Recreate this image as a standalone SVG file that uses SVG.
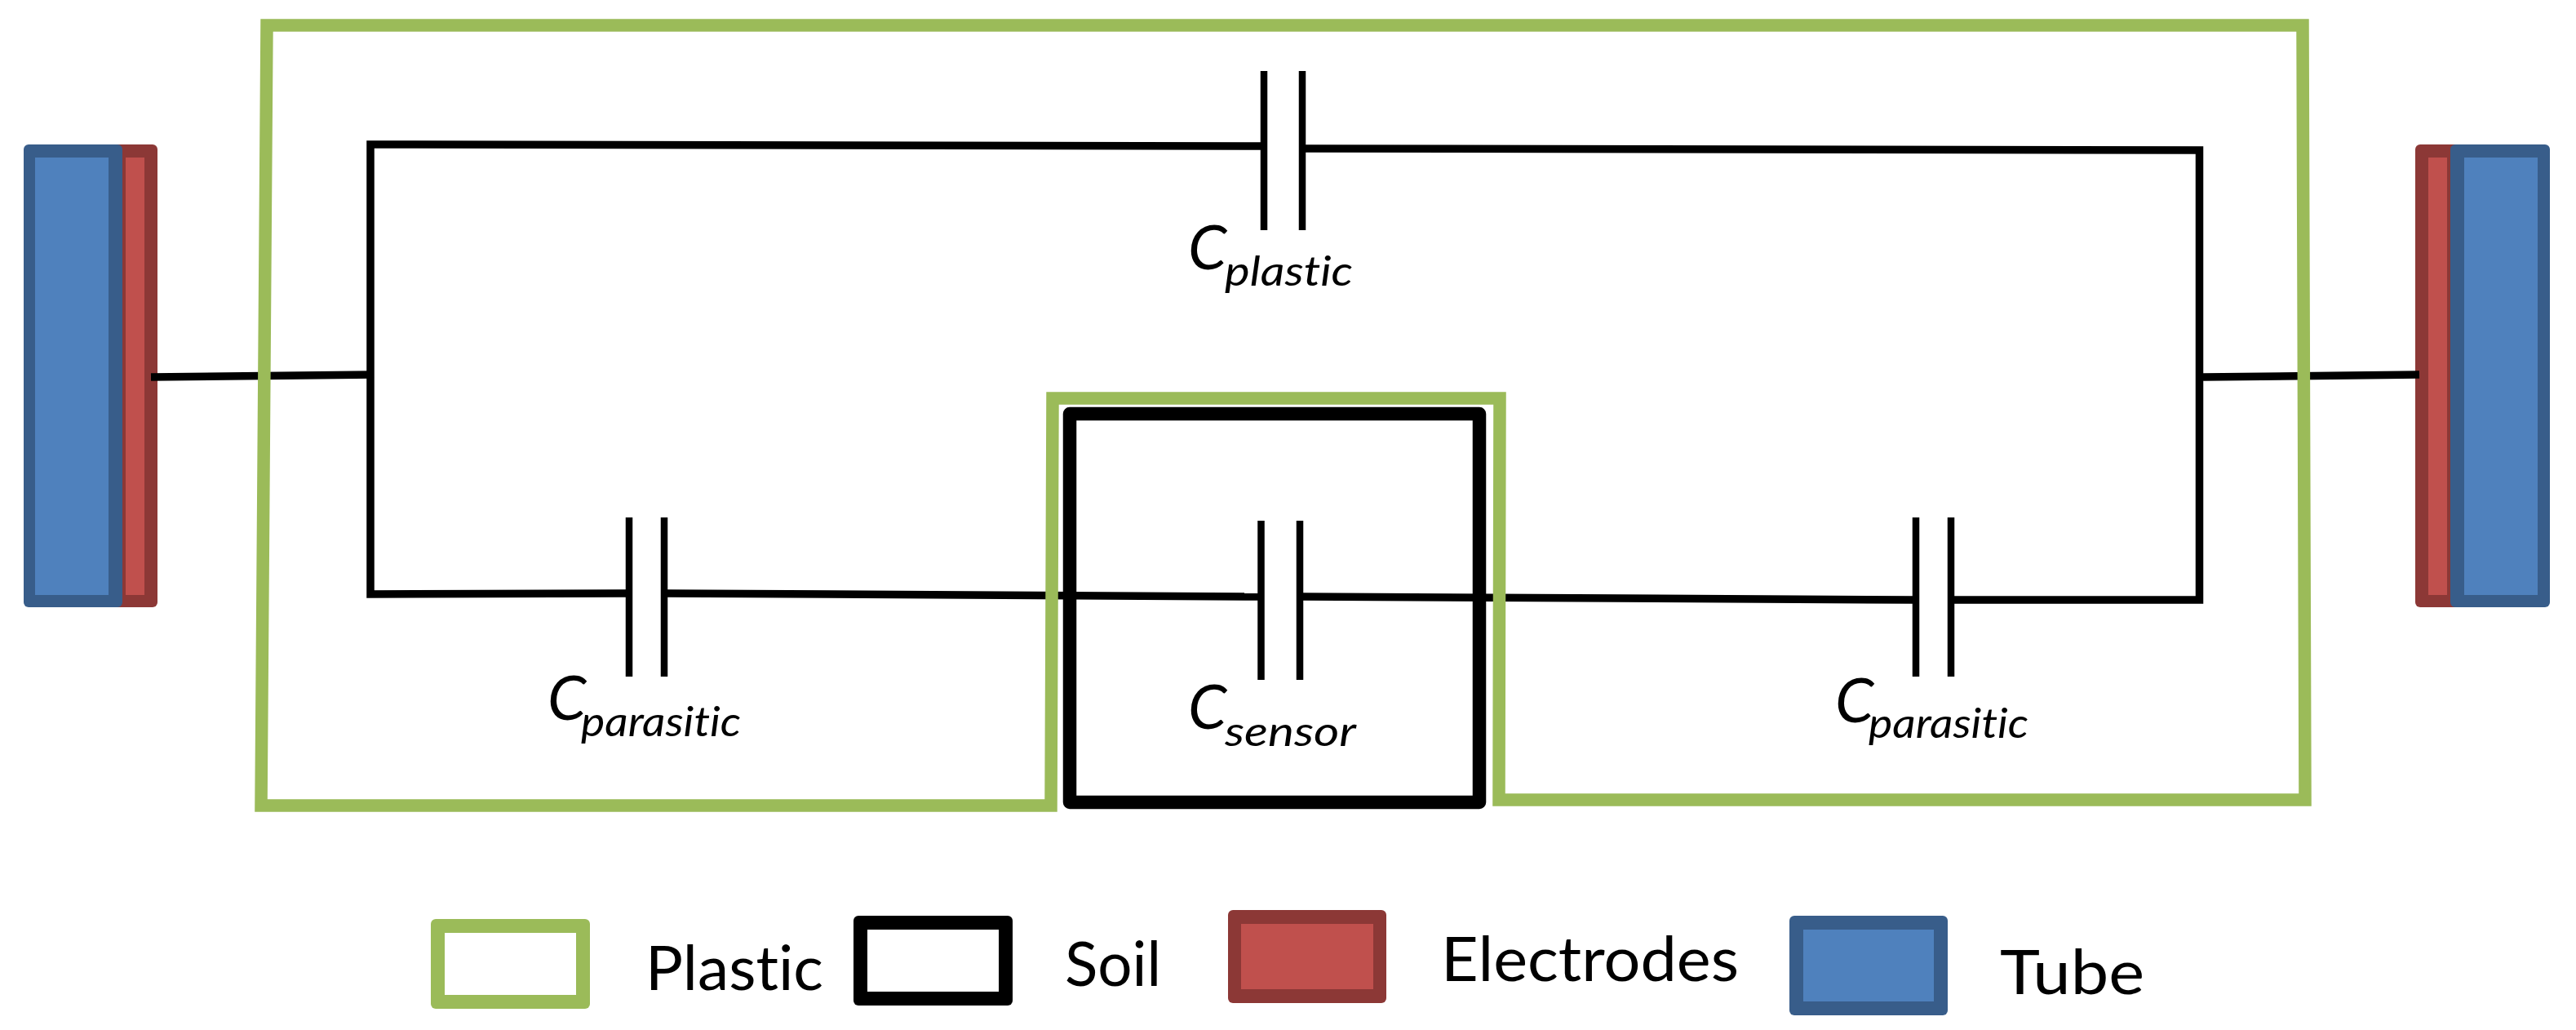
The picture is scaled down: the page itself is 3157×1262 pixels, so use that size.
<svg xmlns="http://www.w3.org/2000/svg" width="3157" height="1262" viewBox="0 0 3157 1262">
<style>
text{font-family:Lato,"Open Sans","Liberation Sans",sans-serif;fill:#000;font-variant-ligatures:none}
.c{font-style:italic;font-size:76px}
.s{font-style:italic;font-size:50px}
.l{font-size:76px}
.wire{fill:none;stroke:#000;stroke-width:9.5;stroke-linejoin:miter}
.plate{fill:none;stroke:#000;stroke-width:8.5}
.plastic{fill:none;stroke:#9BBB59;stroke-width:15.5;stroke-linejoin:miter}
.soil{fill:none;stroke:#000;stroke-width:16.5;stroke-linejoin:round}
.ro{fill:#8C3836}.ri{fill:#C0504D}.bo{fill:#385D8A}.bi{fill:#4F81BD}.go{fill:#9BBB59}.ko{fill:#000}.wi{fill:#fff}
</style>
<rect width="3157" height="1262" fill="#fff"/>
<g id="electrode-left"><rect class="ro" x="130" y="177" width="63" height="567" rx="6"/><rect class="ri" x="154" y="193" width="23" height="536"/></g>
<g id="tube-left"><rect class="bo" x="29" y="177" width="121" height="567" rx="6"/><rect class="bi" x="43" y="193" width="90" height="536"/></g>
<g id="electrode-right"><rect class="ro" x="2960" y="177" width="60" height="567" rx="6"/><rect class="ri" x="2976" y="193" width="23" height="536"/></g>
<g id="tube-right"><rect class="bo" x="3003" y="177" width="122" height="567" rx="6"/><rect class="bi" x="3020" y="193" width="90" height="536"/></g>
<g id="connectors">
<path class="wire" d="M185 462 L458 459"/>
<path class="wire" d="M1549 179 L454 177 L454 728 L771 727"/>
<path class="wire" d="M814 727 L1545 731"/>
<path class="wire" d="M1593 731 L2348 735"/>
<path class="wire" d="M2391 735 L2695.500 735 L2695.500 184 L1596 182"/>
<path class="wire" d="M2700 462 L2965 459"/>
<path class="plate" d="M1549 87V282M1596 87V282"/>
<path class="plate" d="M771 634V829M814 634V829"/>
<path class="plate" d="M1545.500 638V833M1593 638V833"/>
<path class="plate" d="M2348 634V829M2391 634V829"/>
</g>
<g id="plastic"><path class="plastic" d="M327 31 L2822 31 L2825 980 L1837 980 L1838 488 L1290 488 L1288 987 L320 987 Z"/></g>
<g id="soil"><rect class="soil" x="1311" y="507" width="502" height="476"/></g>
<g id="c-plastic"><text><tspan class="c" x="1456" y="330">C</tspan><tspan class="s" x="1501" y="350" textLength="157" lengthAdjust="spacingAndGlyphs">plastic</tspan></text></g>
<g id="c-sensor"><text><tspan class="c" x="1456" y="893">C</tspan><tspan class="s" x="1501" y="914" textLength="161" lengthAdjust="spacingAndGlyphs">sensor</tspan></text></g>
<g id="c-parasitic-left"><text><tspan class="c" x="671" y="882">C</tspan><tspan class="s" x="712" y="902" textLength="196" lengthAdjust="spacingAndGlyphs">parasitic</tspan></text></g>
<g id="c-parasitic-right"><text><tspan class="c" x="2249" y="885">C</tspan><tspan class="s" x="2290" y="904" textLength="196" lengthAdjust="spacingAndGlyphs">parasitic</tspan></text></g>
<g id="legend-plastic"><rect class="go" x="528" y="1126" width="195" height="110" rx="6"/><rect class="wi" x="545" y="1143" width="161" height="76"/><text class="l" x="791" y="1213" textLength="218" lengthAdjust="spacingAndGlyphs">Plastic</text></g>
<g id="legend-soil"><rect class="ko" x="1046" y="1122" width="195" height="110" rx="6"/><rect class="wi" x="1063" y="1139" width="161" height="76"/><text class="l" x="1305" y="1208" textLength="118" lengthAdjust="spacingAndGlyphs">Soil</text></g>
<g id="legend-electrodes"><rect class="ro" x="1505" y="1115" width="194" height="114" rx="6"/><rect class="ri" x="1521" y="1132" width="162" height="80"/><text class="l" x="1766" y="1202" textLength="365" lengthAdjust="spacingAndGlyphs">Electrodes</text></g>
<g id="legend-tube"><rect class="bo" x="2193" y="1122" width="194" height="122" rx="6"/><rect class="bi" x="2210" y="1139" width="160" height="88"/><text class="l" x="2451" y="1218" textLength="177" lengthAdjust="spacingAndGlyphs">Tube</text></g>
</svg>
